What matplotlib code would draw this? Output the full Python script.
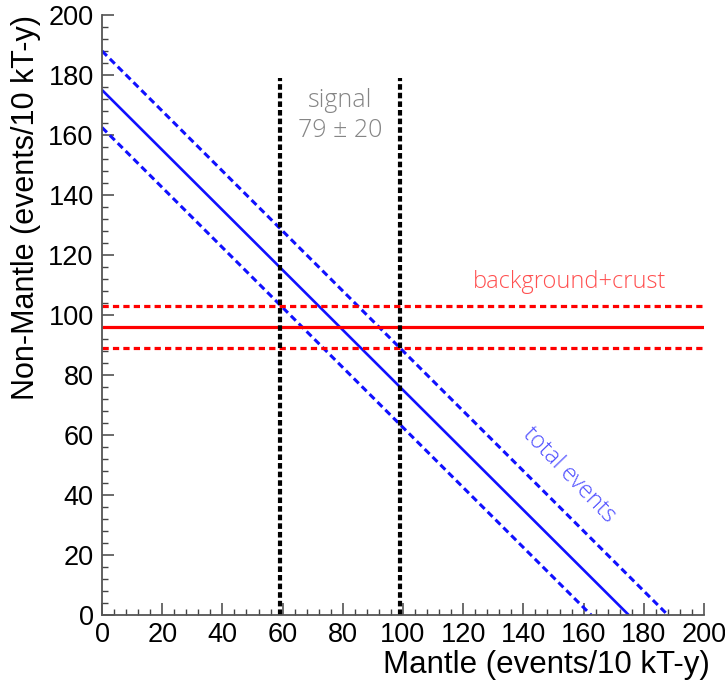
import matplotlib
matplotlib.use("Agg")
import matplotlib.pyplot as plt
from matplotlib.ticker import MultipleLocator

# values
axis_range = [0, 200]
total_events = [162.5, 175, 188]      # lower, central, upper
background_crust = [89, 96, 103]      # lower, central, upper
signal_band = [59, 99]                # 79 +- 20
signal_top = 179

tick_step = 20
minor_step = 4

plt.rcParams["font.family"] = ["Liberation Sans", "DejaVu Sans"]
plt.rcParams["lines.scale_dashes"] = False

ANNOT_FONT = ["Open Sans", "DejaVu Sans"]


def main():
    fig = plt.figure(figsize=(7.25, 6.84), dpi=100)
    ax = fig.add_axes([0.1407, 0.1009, 0.8303, 0.8772])

    # total events: mantle + non-mantle = const
    styles = [(0, (5, 3)), "-", (0, (5, 3))]
    widths = [2.2, 1.9, 2.2]
    for t, ls, lw in zip(total_events, styles, widths):
        ax.plot([axis_range[0], t], [t, axis_range[0]], color="#1010ff",
                linestyle=ls, linewidth=lw, solid_capstyle="butt")

    # background + crust
    styles = [(0, (4.5, 3)), "-", (0, (4.5, 3))]
    for b, ls in zip(background_crust, styles):
        ax.plot(axis_range, [b, b], color="#ff0000", linestyle=ls,
                linewidth=2.3, solid_capstyle="butt")

    # signal band
    for s in signal_band:
        ax.plot([s, s], [axis_range[0], signal_top], color="black",
                linestyle=(0, (4, 2.2)), linewidth=3.0)

    ax.text(sum(signal_band) / 2, 171.5, "signal", color="#858585",
            fontsize=18, family=ANNOT_FONT, fontweight="light",
            ha="center", va="center")
    ax.text(sum(signal_band) / 2, 161.5, "79 \u00b1 20", color="#858585",
            fontsize=18, family=ANNOT_FONT, fontweight="light",
            ha="center", va="center")
    ax.text(155.5, 111, "background+crust", color="#ff5050",
            fontsize=17, family=ANNOT_FONT, fontweight="light",
            ha="center", va="center")
    ax.text(155, 46.5, "total events", color="#5050ff",
            fontsize=17, family=ANNOT_FONT, fontweight="light",
            ha="center", va="center", rotation=-46, rotation_mode="anchor")

    ax.set_xlim(axis_range)
    ax.set_ylim(axis_range)

    for side in ["top", "right"]:
        ax.spines[side].set_visible(False)
    for side in ["left", "bottom"]:
        ax.spines[side].set_color("#555555")
        ax.spines[side].set_linewidth(1.3)

    ax.xaxis.set_major_locator(MultipleLocator(tick_step))
    ax.yaxis.set_major_locator(MultipleLocator(tick_step))
    ax.xaxis.set_minor_locator(MultipleLocator(minor_step))
    ax.yaxis.set_minor_locator(MultipleLocator(minor_step))
    ax.tick_params(which="major", direction="in", length=8.6, width=1.1,
                   color="#444444", labelsize=19.5, labelcolor="black")
    ax.tick_params(which="minor", direction="in", length=4.3, width=1.0,
                   color="#444444")
    ax.tick_params(axis="x", pad=5)
    ax.tick_params(axis="y", pad=6)

    ax.set_xlabel("Mantle (events/10 kT-y)", fontsize=22.5, loc="right",
                  labelpad=1)
    ax.xaxis.set_label_coords(1.01, -0.058)
    ax.set_ylabel("Non-Mantle (events/10 kT-y)", fontsize=22, loc="top")
    ax.yaxis.set_label_coords(-0.101, 1.0)

    fig.savefig("out.png", dpi=100, facecolor="white")
    plt.close(fig)


if __name__ == "__main__":
    main()
